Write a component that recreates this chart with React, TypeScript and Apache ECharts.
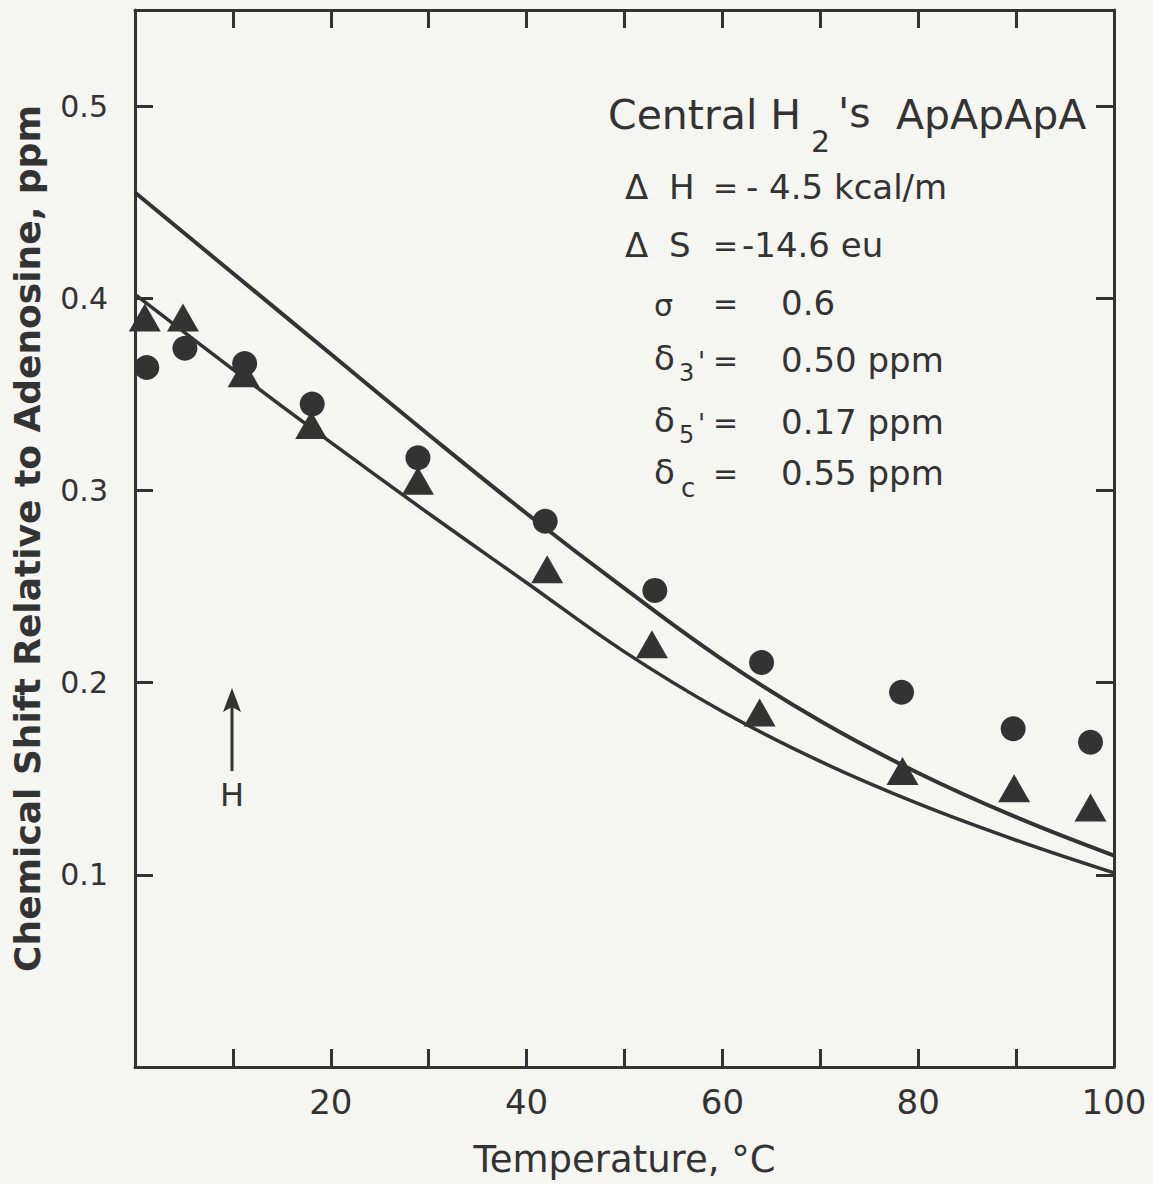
import React, { useEffect, useRef } from "react";
import * as echarts from "echarts";

// Observed points (temperature, °C  →  chemical shift, ppm)
const circleTemps = [1.2, 5.1, 11.2, 18.1, 28.9, 41.9, 53.1, 64.0, 78.3, 89.7, 97.6];
const circleShift = [0.364, 0.374, 0.366, 0.345, 0.317, 0.284, 0.248, 0.2105, 0.195, 0.176, 0.169];
const triangleTemps = [1.0, 4.9, 11.1, 18.0, 28.9, 42.1, 52.8, 63.8, 78.4, 89.8, 97.6];
const triangleShift = [0.390, 0.390, 0.361, 0.334, 0.305, 0.259, 0.220, 0.1845, 0.154, 0.145, 0.135];

// Calculated curves
const curveTemps = [0, 10, 20, 30, 40, 50, 60, 70, 80, 90, 100];
const upperCurve = [0.455, 0.413, 0.371, 0.329, 0.288, 0.249, 0.212, 0.180, 0.153, 0.130, 0.110];
const lowerCurve = [0.402, 0.363, 0.325, 0.288, 0.252, 0.216, 0.185, 0.159, 0.137, 0.118, 0.101];

// Axis tick labels
const xTickLabels = [20, 40, 60, 80, 100];
const yTickLabels = [0.1, 0.2, 0.3, 0.4, 0.5];

const INK = "#333333";
const FONT = "DejaVu Sans";

function txt(text: string, x: number, y: number, size: number, extra: any = {}) {
  return {
    type: "text",
    x,
    y,
    silent: true,
    style: {
      text,
      fontSize: size,
      fontFamily: FONT,
      fill: INK,
      align: "left",
      verticalAlign: "middle",
      ...extra,
    },
  };
}

export default function App() {
  const ref = useRef<HTMLDivElement | null>(null);

  useEffect(() => {
    if (!ref.current) return;
    const chart = echarts.init(ref.current, null, { renderer: "svg" });

    const pair = (xs: number[], ys: number[]) => xs.map((x, i) => [x, ys[i]]);

    const axisCommon = {
      type: "value",
      axisLine: { show: true, onZero: false, lineStyle: { color: INK, width: 3 } },
      axisTick: { show: true, inside: true, length: 18, lineStyle: { color: INK, width: 3 } },
      splitLine: { show: false },
    };

    const rows: any[] = [
      // Title
      txt("Central H", 608, 115, 41),
      txt("2", 811, 141, 30),
      txt("'s", 838, 113, 41),
      txt("ApApApA", 896, 115, 41),
      // ΔH
      txt("Δ", 625, 187, 34),
      txt("H", 669, 187, 34),
      txt("=", 713, 187, 30),
      txt("- 4.5 kcal/m", 746, 187, 34),
      // ΔS
      txt("Δ", 625, 245, 34),
      txt("S", 669, 245, 34),
      txt("=", 713, 245, 30),
      txt("-14.6 eu", 742, 245, 34),
      // σ
      txt("σ", 654, 305, 30),
      txt("=", 713, 303, 30),
      txt("0.6", 781, 303, 34),
      // δ3'
      txt("δ", 654, 358, 34),
      txt("3", 679, 373, 24),
      txt("'", 698, 362, 26),
      txt("=", 713, 360, 30),
      txt("0.50 ppm", 781, 360, 34),
      // δ5'
      txt("δ", 654, 420, 34),
      txt("5", 679, 435, 24),
      txt("'", 698, 424, 26),
      txt("=", 713, 422, 30),
      txt("0.17 ppm", 781, 422, 34),
      // δc
      txt("δ", 654, 472, 34),
      txt("c", 681, 488, 26),
      txt("=", 713, 473, 30),
      txt("0.55 ppm", 781, 473, 34),
      // Arrow with H
      {
        type: "line",
        silent: true,
        shape: { x1: 232, y1: 705, x2: 232, y2: 771 },
        style: { stroke: INK, lineWidth: 3 },
      },
      {
        type: "polygon",
        silent: true,
        shape: { points: [[232, 688], [223, 712], [232, 707], [241, 712]] },
        style: { fill: INK },
      },
      txt("H", 232, 795, 32, { align: "center" }),
    ];

    chart.setOption({
      animation: false,
      backgroundColor: "#f5f5f2",
      grid: { left: 135, right: 39, top: 10, bottom: 117 },
      xAxis: [
        {
          ...axisCommon,
          position: "bottom",
          min: 0,
          max: 100,
          interval: 10,
          name: "Temperature, °C",
          nameLocation: "middle",
          nameGap: 74,
          nameTextStyle: { fontSize: 37, fontFamily: FONT, color: INK },
          axisLabel: {
            show: true,
            margin: 18,
            fontSize: 34,
            fontFamily: FONT,
            color: INK,
            formatter: (v: number) => (xTickLabels.includes(v) ? String(v) : ""),
          },
        },
        {
          ...axisCommon,
          position: "top",
          min: 0,
          max: 100,
          interval: 10,
          axisLabel: { show: false },
        },
      ],
      yAxis: [
        {
          ...axisCommon,
          position: "left",
          min: 0,
          max: 0.55,
          interval: 0.1,
          name: "Chemical Shift Relative to Adenosine, ppm",
          nameLocation: "middle",
          nameGap: 90,
          nameTextStyle: { fontSize: 36, fontFamily: FONT, color: INK, fontWeight: "bold" },
          axisLabel: {
            show: true,
            margin: 27,
            fontSize: 30,
            fontFamily: FONT,
            color: INK,
            formatter: (v: number) => {
              const r = Math.round(v * 10) / 10;
              return yTickLabels.some((t) => Math.abs(t - v) < 1e-6) ? r.toFixed(1) : "";
            },
          },
        },
        {
          ...axisCommon,
          position: "right",
          min: 0,
          max: 0.55,
          interval: 0.1,
          axisLabel: { show: false },
        },
      ],
      series: [
        {
          type: "line",
          name: "upper fit",
          data: pair(curveTemps, upperCurve),
          smooth: 0.4,
          showSymbol: false,
          lineStyle: { color: INK, width: 4 },
          z: 2,
        },
        {
          type: "line",
          name: "lower fit",
          data: pair(curveTemps, lowerCurve),
          smooth: 0.4,
          showSymbol: false,
          lineStyle: { color: INK, width: 3.5 },
          z: 2,
        },
        {
          type: "scatter",
          name: "circles",
          data: pair(circleTemps, circleShift),
          symbol: "circle",
          symbolSize: 25,
          itemStyle: { color: INK, opacity: 1 },
          z: 3,
        },
        {
          type: "scatter",
          name: "triangles",
          data: pair(triangleTemps, triangleShift),
          symbol: "triangle",
          symbolSize: [32, 28],
          itemStyle: { color: INK, opacity: 1 },
          z: 3,
        },
      ],
      graphic: { elements: rows },
    });

    return () => chart.dispose();
  }, []);

  return (
    <div
      ref={ref}
      style={{ position: "absolute", left: 0, top: 0, width: 1153, height: 1184 }}
    />
  );
}
